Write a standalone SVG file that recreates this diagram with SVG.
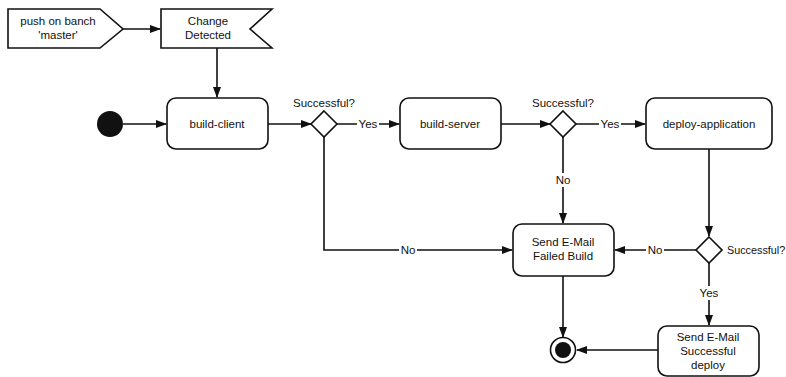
<svg xmlns="http://www.w3.org/2000/svg" width="786" height="377" viewBox="0 0 786 377">
<defs>
<marker id="ah" markerWidth="11" markerHeight="8" refX="10" refY="4" orient="auto" markerUnits="userSpaceOnUse">
<path d="M0,0 L11,4 L0,8 z" fill="#111"/>
</marker>
</defs>
<style>
.shape{fill:#fff;stroke:#111;stroke-width:1.6}
.t{font-family:"Liberation Sans",Arial,sans-serif;font-size:11.5px;fill:#111;text-anchor:middle}
.lbl{font-family:"Liberation Sans",Arial,sans-serif;font-size:11.5px;fill:#111;text-anchor:middle}
.c{fill:none;stroke:#111;stroke-width:1.6}
.bg{fill:#fff}
</style>
<rect width="786" height="377" fill="#fff"/>
<g id="connectors">
<path class="c" d="M123,29 L160,29" marker-end="url(#ah)"/>
<path class="c" d="M217,48 L217,97" marker-end="url(#ah)"/>
<path class="c" d="M123,124 L166,124" marker-end="url(#ah)"/>
<path class="c" d="M268,124 L311,124" marker-end="url(#ah)"/>
<path class="c" d="M337,124 L399,124" marker-end="url(#ah)"/>
<path class="c" d="M501,124 L550,124" marker-end="url(#ah)"/>
<path class="c" d="M576,124 L645,124" marker-end="url(#ah)"/>
<path class="c" d="M324,136 L324,250 L512,250" marker-end="url(#ah)"/>
<path class="c" d="M563,136 L563,223" marker-end="url(#ah)"/>
<path class="c" d="M709,149 L709,236" marker-end="url(#ah)"/>
<path class="c" d="M696,250 L615,250" marker-end="url(#ah)"/>
<path class="c" d="M709,262 L709,325" marker-end="url(#ah)"/>
<path class="c" d="M563,276 L563,337" marker-end="url(#ah)"/>
<path class="c" d="M658,350 L577,350" marker-end="url(#ah)"/>
<rect class="bg" x="357" y="117" width="22" height="14"/>
<text class="lbl" x="368" y="128">Yes</text>
<rect class="bg" x="599" y="117" width="22" height="14"/>
<text class="lbl" x="610" y="128">Yes</text>
<rect class="bg" x="399" y="243" width="18" height="14"/>
<text class="lbl" x="408" y="254">No</text>
<rect class="bg" x="554" y="173" width="18" height="14"/>
<text class="lbl" x="563" y="184">No</text>
<rect class="bg" x="646" y="243" width="18" height="14"/>
<text class="lbl" x="655" y="254">No</text>
<rect class="bg" x="698" y="286" width="22" height="14"/>
<text class="lbl" x="709" y="297">Yes</text>
</g>
<g id="push">
<path class="shape" d="M8,9 L100,9 L123,29 L100,48 L8,48 Z"/>
<text class="t" x="58" y="25">push on banch</text>
<text class="t" x="58" y="39">'master'</text>
</g>
<g id="change">
<path class="shape" d="M161,9 L272,9 L250,29 L272,48 L161,48 Z"/>
<text class="t" x="208" y="25">Change</text>
<text class="t" x="208" y="39">Detected</text>
</g>
<g id="start">
<circle cx="110" cy="124" r="13" fill="#111"/>
</g>
<g id="build-client">
<rect class="shape" x="167" y="98" width="101" height="51" rx="9"/>
<text class="t" x="217" y="128">build-client</text>
</g>
<g id="dec1">
<path class="shape" d="M324,111 L337,124 L324,137 L311,124 Z"/>
<text class="lbl" x="324" y="107">Successful?</text>
</g>
<g id="build-server">
<rect class="shape" x="400" y="98" width="101" height="51" rx="9"/>
<text class="t" x="450" y="128">build-server</text>
</g>
<g id="dec2">
<path class="shape" d="M563,111 L576,124 L563,137 L550,124 Z"/>
<text class="lbl" x="563" y="107">Successful?</text>
</g>
<g id="deploy">
<rect class="shape" x="646" y="98" width="126" height="51" rx="9"/>
<text class="t" x="709" y="128">deploy-application</text>
</g>
<g id="dec3">
<path class="shape" d="M709,237 L722,250 L709,263 L696,250 Z"/>
<text class="lbl" x="727" y="254" style="text-anchor:start;font-size:10.8px">Successful?</text>
</g>
<g id="failed">
<rect class="shape" x="513" y="224" width="101" height="52" rx="9"/>
<text class="t" x="563" y="246">Send E-Mail</text>
<text class="t" x="563" y="260">Failed Build</text>
</g>
<g id="success">
<rect class="shape" x="658" y="326" width="101" height="50" rx="9"/>
<text class="t" x="708" y="341">Send E-Mail</text>
<text class="t" x="708" y="355">Successful</text>
<text class="t" x="708" y="369">deploy</text>
</g>
<g id="end">
<circle cx="563" cy="350" r="12.5" fill="#fff" stroke="#111" stroke-width="1.6"/>
<circle cx="563" cy="350" r="8" fill="#111"/>
</g>
</svg>
